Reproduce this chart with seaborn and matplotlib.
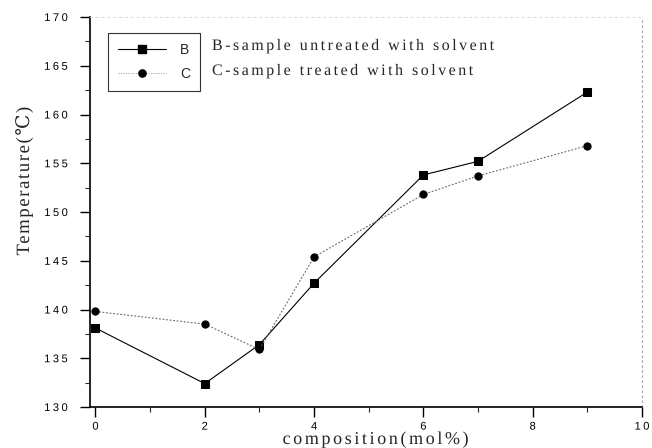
import matplotlib
matplotlib.use("Agg")
import matplotlib.pyplot as plt
from matplotlib.lines import Line2D
from matplotlib.path import Path
from matplotlib.patheffects import AbstractPathEffect
from matplotlib.textpath import text_to_path
from matplotlib.ticker import MultipleLocator
import numpy as np
import pandas as pd
import seaborn as sns

# composition (mol%) and transition temperatures (°C)
composition = [0, 2, 3, 4, 6, 7, 9]
temp_b = [138.1, 132.4, 136.4, 142.7, 153.8, 155.2, 162.3]
temp_c = [139.8, 138.5, 135.9, 145.4, 151.8, 153.7, 156.8]
series_names = ["B", "C"]
series_desc = ["B-sample untreated with solvent", "C-sample treated with solvent"]
x_ticks = [0, 2, 4, 6, 8, 10]
y_ticks = [130, 135, 140, 145, 150, 155, 160, 165, 170]

df = pd.DataFrame({
    "composition": composition * 2,
    "temperature": temp_b + temp_c,
    "sample": [series_names[0]] * len(composition) + [series_names[1]] * len(composition),
})


class LetterSpacing(AbstractPathEffect):
    """Draw a text's glyphs with extra space (in pixels) between letters."""

    def __init__(self, text_artist, spacing_px, anchor=0.0):
        super().__init__()
        self._text = text_artist
        self._spacing = spacing_px
        self._anchor = anchor  # 0 left-aligned, 0.5 centred, 1 right-aligned

    def draw_path(self, renderer, gc, tpath, affine, rgbFace=None):
        prop = self._text.get_fontproperties()
        font = text_to_path._get_font(prop)
        glyph_info, _, _ = text_to_path.get_glyphs_with_font(font, self._text.get_text())
        xpos = np.array([g[1] for g in glyph_info], dtype=float)
        size_px = renderer.points_to_pixels(prop.get_size_in_points())
        step = self._spacing * text_to_path.FONT_SCALE / size_px
        base = -self._anchor * step * max(len(xpos) - 1, 0)
        verts = np.array(tpath.vertices, dtype=float)
        codes = tpath.codes
        if codes is None or len(xpos) == 0:
            renderer.draw_path(gc, tpath, affine, rgbFace)
            return
        starts = list(np.flatnonzero(codes == Path.MOVETO)) + [len(codes)]
        for a, b in zip(starts[:-1], starts[1:]):
            seg = verts[a:b]
            real = seg[codes[a:b] != Path.CLOSEPOLY]
            if len(real) == 0:
                continue
            cx = 0.5 * (real[:, 0].min() + real[:, 0].max())
            idx = max(int(np.searchsorted(xpos, cx, side="right")) - 1, 0)
            verts[a:b, 0] += base + idx * step
        renderer.draw_path(gc, Path(verts, codes), affine, rgbFace)


sns.set_theme(style="ticks")
plt.rcParams["font.family"] = ["Liberation Sans", "DejaVu Sans"]
serif = ["Liberation Serif", "DejaVu Serif"]

fig = plt.figure(figsize=(6.52, 4.48), dpi=100)
ax = fig.add_axes([90 / 652, 1 - 407 / 448, 552 / 652, 390 / 448])

sns.lineplot(
    data=df, x="composition", y="temperature", hue="sample", style="sample",
    palette={"B": "black", "C": "#666666"},
    markers={"B": "s", "C": "o"},
    dashes={"B": "", "C": (1.6, 1.6)},
    markersize=5.8, linewidth=0.8, markeredgecolor="black",
    legend=False, ax=ax,
)
for line in ax.get_lines():
    line.set_markerfacecolor("black")
    line.set_markeredgecolor("black")
ax.get_lines()[1].set_markersize(5.2)

ax.set_xlim(-0.1, 10)
ax.set_ylim(130, 170)
ax.set_xticks(x_ticks)
ax.set_yticks(y_ticks)
ax.xaxis.set_minor_locator(MultipleLocator(1))
ax.yaxis.set_minor_locator(MultipleLocator(2.5))
ax.tick_params(axis="both", which="major", direction="out", length=7, width=1,
               labelsize=8, colors="black")
ax.tick_params(axis="x", which="major", pad=3.5)
ax.tick_params(axis="y", which="major", pad=9)
ax.tick_params(axis="both", which="minor", direction="out", length=3.5, width=0.8)
ax.tick_params(top=False, right=False)
ax.set_xlabel("")
ax.set_ylabel("")

for side in ["left", "bottom"]:
    ax.spines[side].set_color("black")
    ax.spines[side].set_linewidth(1.2)
ax.spines["top"].set_color("#d8d8d8")
ax.spines["top"].set_linestyle((0, (2, 4)))
ax.spines["top"].set_linewidth(0.7)
ax.spines["right"].set_color("#aaaaaa")
ax.spines["right"].set_linestyle((0, (1.5, 3)))
ax.spines["right"].set_linewidth(0.8)

for lbl in ax.get_xticklabels():
    lbl.set_path_effects([LetterSpacing(lbl, 2.5, 0.5)])
for lbl in ax.get_yticklabels():
    lbl.set_path_effects([LetterSpacing(lbl, 2.5, 1.0)])

# legend box with short labels, long descriptions beside it
handles = [
    Line2D([], [], color="black", lw=0.8, marker="s", markersize=5.8,
           markerfacecolor="black", markeredgecolor="black"),
    Line2D([], [], color="#999999", lw=0.6, ls=(0, (1.5, 1.5)), marker="o",
           markersize=5.2, markerfacecolor="black", markeredgecolor="black"),
]
leg = ax.legend(handles, series_names, loc="upper left",
                bbox_to_anchor=((108 - 90) / 552, (407 - 33) / 390),
                frameon=True, fancybox=False, edgecolor="black",
                handlelength=3.5, handletextpad=1.0, borderpad=0.7,
                labelspacing=0.75, fontsize=10, borderaxespad=0)
leg.get_frame().set_linewidth(0.8)

for desc, ypx in zip(series_desc, [46, 71]):
    t = fig.text(212 / 652, 1 - ypx / 448, desc, family=serif, fontsize=11.5,
                 va="center", ha="left")
    t.set_path_effects([LetterSpacing(t, 2.5, 0.0)])

t = fig.text(375 / 652, 1 - 444 / 448, "composition(mol%)", family=serif,
             fontsize=13, va="baseline", ha="center")
t.set_path_effects([LetterSpacing(t, 2.6, 0.5)])
t = fig.text(24 / 652, 1 - 181 / 448, "Temperature(\u2103)", family=serif,
             fontsize=13.5, va="center", ha="center", rotation=90)
t.set_path_effects([LetterSpacing(t, 1.6, 0.5)])

fig.savefig("out.png", dpi=100)
